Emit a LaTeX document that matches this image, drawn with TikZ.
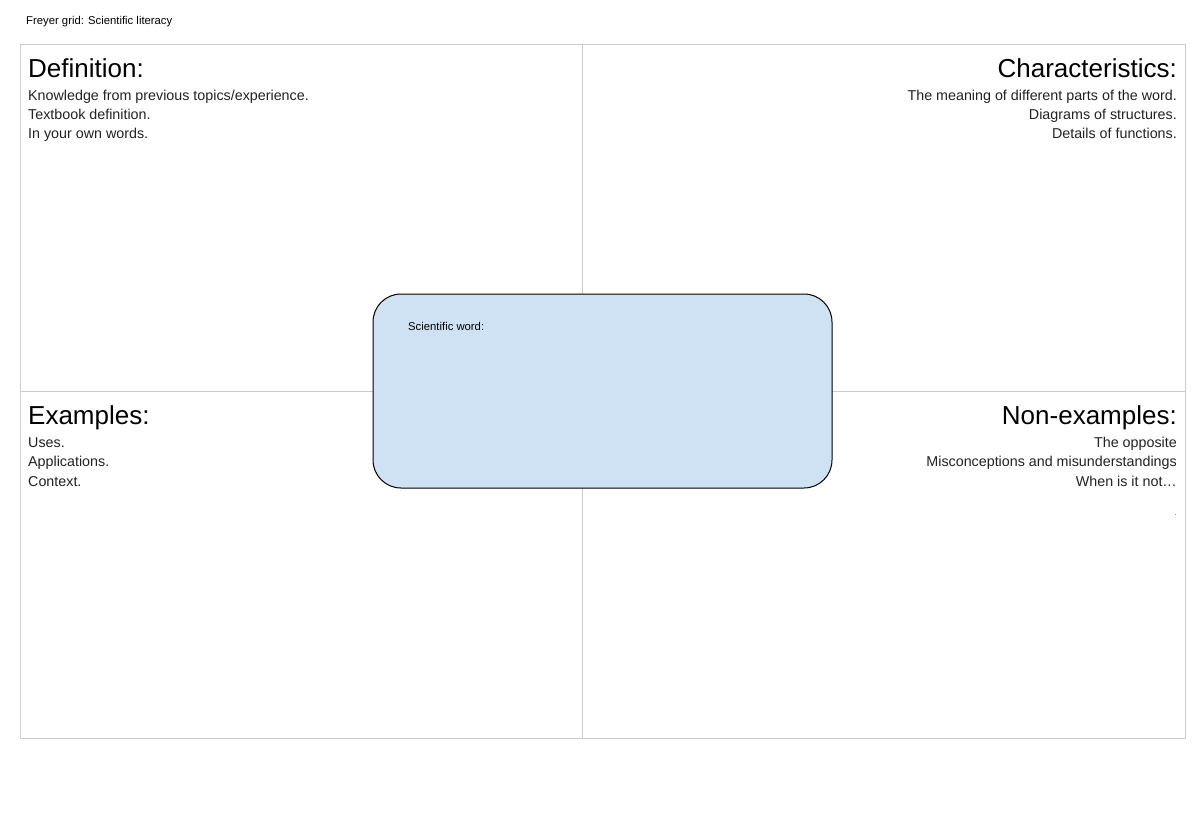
\documentclass[tikz,border=0pt]{standalone}
\usepackage{fontspec}
\setmainfont{Liberation Sans}
\definecolor{gridgrey}{HTML}{CCCCCC}
\definecolor{wordblue}{HTML}{CFE2F3}
\definecolor{bodygrey}{HTML}{222222}
\begin{document}
\begin{tikzpicture}[x=1pt,y=-1pt,
  heading/.style={inner sep=0pt,font=\fontsize{26}{30}\selectfont},
  bodyline/.style={inner sep=0pt,text=bodygrey,font=\fontsize{14.3}{17}\selectfont},
  smalltext/.style={inner sep=0pt,font=\fontsize{11.3}{13}\selectfont}]
  \useasboundingbox[fill=white] (0,0) rectangle (1200,819);
  % grid
  \draw[gridgrey,line width=1pt] (20,44) rectangle (1185,738);
  \draw[gridgrey,line width=1pt] (582,44) -- (582,738);
  \draw[gridgrey,line width=1pt] (20,391) -- (1185,391);
  \node[smalltext,anchor=base west] (title) at (26,24) {Freyer grid: Scientific literacy};
  % definition
  \node[heading,anchor=base west] (def) at (28,77) {Definition:};
  \node[bodyline,anchor=base west] (def1) at (28,100) {Knowledge from previous topics/experience.};
  \node[bodyline,anchor=base west] (def2) at (28,119) {Textbook definition.};
  \node[bodyline,anchor=base west] (def3) at (28,138) {In your own words.};
  % characteristics
  \node[heading,anchor=base east] (cha) at (1177,77) {Characteristics:};
  \node[bodyline,anchor=base east] (cha1) at (1177,100) {The meaning of different parts of the word.};
  \node[bodyline,anchor=base east] (cha2) at (1177,119) {Diagrams of structures.};
  \node[bodyline,anchor=base east] (cha3) at (1177,138) {Details of functions.};
  % examples
  \node[heading,anchor=base west] (exa) at (28,424) {Examples:};
  \node[bodyline,anchor=base west] (exa1) at (28,447) {Uses.};
  \node[bodyline,anchor=base west] (exa2) at (28,466) {Applications.};
  \node[bodyline,anchor=base west] (exa3) at (28,486) {Context.};
  % non-examples
  \node[heading,anchor=base east] (non) at (1177,424) {Non-examples:};
  \node[bodyline,anchor=base east] (non1) at (1177,447) {The opposite};
  \node[bodyline,anchor=base east] (non2) at (1177,466) {Misconceptions and misunderstandings};
  \node[bodyline,anchor=base east] (non3) at (1177,486) {When is it not\dots};
  \node[inner sep=0pt,text=bodygrey,font=\fontsize{7}{8}\selectfont,anchor=base east] (non4) at (1177,515) {.};
  % scientific word
  \node[draw=black,fill=wordblue,line width=1pt,rounded corners=28pt,
        minimum width=459pt,minimum height=194pt] (word) at (602.5,391) {};
  \node[smalltext,anchor=base west] (wordlabel) at (408,330) {Scientific word:};
\end{tikzpicture}
\end{document}
